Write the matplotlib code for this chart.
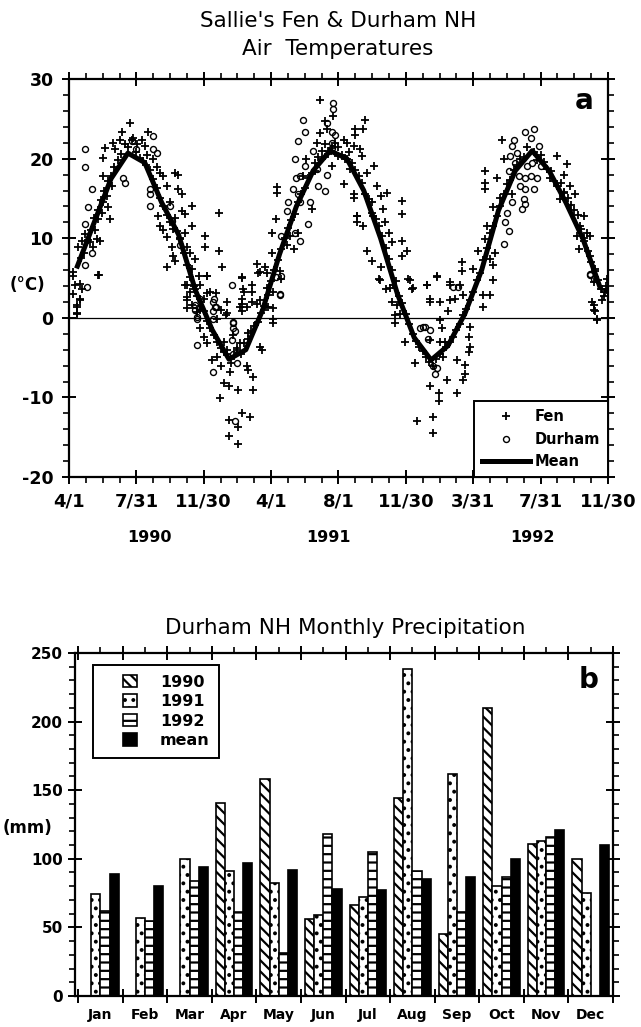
import numpy as np
import matplotlib
matplotlib.use('Agg')
import matplotlib.pyplot as plt
from matplotlib.lines import Line2D
from matplotlib.patches import Patch, Rectangle
from matplotlib.legend_handler import HandlerPatch
from matplotlib.ticker import MultipleLocator, FixedLocator

plt.rcParams['font.family'] = ['DejaVu Sans']
plt.rcParams['hatch.linewidth'] = 1.6

# ---- panel a : air temperatures (x = months since 4/1/1990, y = deg C) ----
date_ticks = [0, 4, 8, 12, 16, 20, 24, 28, 32]
date_labels = ['4/1', '7/31', '11/30', '4/1', '8/1', '11/30', '3/31', '7/31', '11/30']
year_labels = ['1990', '1991', '1992']
year_pos = [4.8, 15.4, 27.5]

# monthly mean, plotted at mid-month
mean_month = [0.5, 1.5, 2.5, 3.5, 4.5, 5.5, 6.5, 7.5, 8.5, 9.5, 10.5, 11.5,
              12.5, 13.5, 14.5, 15.5, 16.5, 17.5, 18.5, 19.5, 20.5, 21.5, 22.5, 23.5,
              24.5, 25.5, 26.5, 27.5, 28.5, 29.5, 30.5, 31.5]
mean_temp = [6.5, 12.0, 17.5, 20.7, 19.5, 14.5, 10.5, 3.5, -1.5, -5.2, -4.0, 1.0,
             8.0, 14.0, 18.5, 21.0, 20.0, 16.0, 10.0, 3.0, -2.5, -5.3, -3.5, 0.5,
             6.0, 13.5, 18.5, 21.0, 18.5, 14.5, 10.0, 4.0]

fen_month = [
    0.26, 0.26, 0.46, 0.46, 0.36, 0.75, 0.65, 0.55, 0.75, 0.95, 1.25, 1.45, 1.64, 1.84, 1.8, 1.54,
    1.74, 1.94, 2.04, 2.34, 2.44, 2.24, 2.53, 2.04, 2.04, 2.14, 2.63, 2.73, 3.03, 3.13, 3.62, 3.72,
    4.02, 4.32, 4.51, 4.71, 4.61, 5.01, 5.21, 5.41, 5.6, 5.8, 6.3, 6.5, 6.5, 6.7, 7.29, 6.0,
    6.3, 5.31, 5.4, 5.6, 5.8, 6.1, 6.2, 5.8, 6.3, 6.6, 6.9, 7.0, 7.2, 7.5, 7.3, 6.9,
    6.7, 7.3, 7.0, 7.2, 7.5, 7.7, 7.8, 8.1, 8.1, 8.9, 8.9, 9.1, 8.2, 8.4, 8.0, 7.0,
    7.3, 7.6, 8.8, 9.3, 10.26, 10.36, 10.55, 10.85, 11.15, 11.35, 11.64, 11.84, 12.14, 12.04, 12.04, 12.3,
    12.34, 12.34, 13.1, 12.93, 13.33, 13.6, 14.4, 14.7, 14.9, 15.2, 14.9, 15.3, 15.7, 16.3, 16.5, 16.9,
    17.0, 16.3, 16.9, 17.1, 17.1, 13.9, 14.1, 14.6, 15.0, 15.4, 15.6, 16.0, 12.5, 12.6, 12.1, 11.7,
    11.35, 10.85, 10.26, 10.16, 9.37, 9.0,
    17.58, 17.48, 17.0, 16.5, 17.3, 17.4, 16.7, 16.9, 17.7, 18.1, 18.3, 18.9, 18.5, 18.0, 19.76, 19.76,
    17.08, 17.48, 18.07, 18.67, 18.77, 18.97, 19.16, 19.76, 20.05, 17.68, 18.0, 18.5, 18.4, 18.8, 19.26, 19.76,
    20.15, 20.35, 19.16, 19.46, 19.66, 21.24, 21.44, 21.84, 22.63, 22.93, 23.32, 23.32, 24.0, 24.3, 24.8, 24.7,
    25.0, 25.2, 25.3, 24.7, 24.7, 24.7, 25.4, 25.7, 25.8, 25.2, 25.6, 26.3, 28.96, 29.56, 29.36, 29.76,
    30.05, 29.16, 29.36, 28.57, 28.37, 30.55, 30.35, 30.25, 30.55, 30.95, 30.95, 31.24, 31.14, 31.64, 31.94, 31.04,
    31.14, 31.34, 31.74, 30.75, 30.15,
    0.26, 0.65, 0.65, 0.46, 0.46, 1.74, 6.9, 7.0, 7.0, 7.8, 8.2, 8.2, 8.7, 9.4, 10.3, 10.4,
    10.85, 11.15, 10.26, 10.26, 11.25, 11.75, 11.75, 12.1, 12.1, 7.8, 8.0, 8.2, 9.2, 10.16, 9.37, 10.6,
    11.35, 11.45, 8.5, 8.8, 9.0, 9.56, 10.55, 10.65, 10.95, 9.2, 9.5, 10.06, 10.95, 8.97, 10.26, 10.75,
    9.5, 10.06, 9.5, 10.06, 9.96, 9.76,
    18.47, 19.06, 20.25, 20.45, 21.24, 21.84, 21.44, 22.03, 22.63, 23.2, 22.63, 22.53, 19.36, 19.36, 23.82, 23.72,
    23.82, 23.72, 22.03, 22.13, 21.44, 22.03, 22.33, 19.96, 20.55, 23.02, 23.52, 23.52, 23.42, 22.43, 21.44, 21.94,
    21.94, 23.02, 21.64, 20.65, 21.64, 24.6, 24.6, 25.2, 25.0, 23.4, 31.14, 31.24, 31.34, 31.64, 31.94,
    0.7, 0.9, 1.1, 1.3, 1.5, 1.7, 1.9, 2.1, 2.3, 2.5, 2.7, 2.9, 3.1, 3.3, 3.5, 3.8, 4.0, 4.2,
    4.4, 4.6, 4.8, 5.0, 5.2, 5.4, 5.6, 5.8, 6.0, 6.2, 6.4, 6.6, 6.8, 7.0, 7.2, 7.4, 7.6, 7.8,
    8.0, 8.2, 8.4, 8.6, 8.8, 9.0, 9.2, 9.4, 9.6, 9.8,
    10.0, 10.2, 10.4, 10.6, 10.8, 11.0, 11.2, 11.4, 11.6, 11.8, 12.0, 12.2, 12.4, 12.6, 12.8, 13.0,
    13.2, 13.4, 13.6, 13.8, 14.0, 14.2, 14.4, 14.6, 14.8, 15.0, 15.2, 15.4, 15.6, 15.8, 16.0, 16.2,
    16.4, 16.6, 16.8, 17.0, 17.2, 17.4, 17.6, 17.8, 18.0, 18.2, 18.4, 18.6, 18.8, 19.0, 19.2, 19.4,
    19.6, 19.8, 20.0, 20.2, 20.4, 20.6, 20.8, 21.0, 21.2, 21.4, 21.6, 21.8, 22.0, 22.2, 22.4, 22.6,
    22.8, 23.0, 23.2, 23.4, 23.6, 23.8, 24.0, 24.2, 24.4, 24.6, 24.8, 25.0, 25.2, 25.4, 25.6, 25.8,
    26.0, 26.2, 26.4, 26.6, 26.8, 27.0, 27.2, 27.6, 27.8, 28.0, 28.2, 28.4, 28.6, 28.8, 29.0, 29.2,
    29.4, 29.6, 29.8, 30.0, 30.2, 30.4, 30.6, 30.8, 31.0, 31.2, 31.4, 31.6, 31.8, 31.9]
fen_temp = [
    5.7, 3.0, 1.6, 0.5, 4.1, 3.6, 2.4, 8.9, 9.7, 10.5, 9.5, 8.9, 9.9, 9.7, 5.4, 11.0,
    12.4, 13.2, 14.5, 13.9, 12.4, 15.3, 16.6, 17.8, 20.1, 21.4, 22.0, 21.2, 22.4, 23.4, 24.5, 22.4,
    21.8, 22.4, 21.6, 23.4, 20.5, 19.9, 18.9, 18.2, 17.8, 16.6, 18.2, 18.0, 16.2, 15.5, 14.1, 14.5,
    12.6, 12.8, 11.6, 11.0, 10.1, 8.9, 7.8, 6.4, 7.2, 9.9, 10.7, 8.9, 8.2, 7.4, 11.6, 13.0,
    13.4, 6.2, 4.1, 3.2, 3.6, 5.3, 4.1, 10.3, 8.9, 8.4, 13.2, 6.4, 5.3, 3.2, 2.4, 2.6,
    1.6, 0.7, -0.1, 0.3, 5.1, 3.6, 1.4, 4.1, 6.8, 5.7, 6.4, 1.4, -0.1, 8.2, 10.7, 12.4,
    16.4, 15.7, 10.3, 9.1, 8.6, 10.7, 13.7, 22.0, 23.2, 24.7, 27.4, 23.7, 25.3, 22.4, 19.9, 21.6,
    23.7, 16.8, 15.1, 12.8, 12.0, 17.8, 19.9, 18.4, 19.9, 21.0, 19.1, 20.3, 5.9, 4.9, 3.2, 1.4,
    2.2, 2.0, 2.4, 1.4, 2.0, 1.0,
    24.9, 23.7, 23.0, 22.0, 21.2, 20.3, 18.7, 15.5, 18.2, 19.1, 16.6, 15.7, 15.3, 14.5, 14.7, 13.0,
    12.8, 11.6, 12.8, 13.7, 12.0, 10.7, 9.5, 9.7, 8.4, 8.4, 7.2, 6.4, 4.9, 3.6, 4.1, 7.8,
    4.9, 3.6, 2.0, 1.6, 0.5, 4.1, 2.4, 5.1, 4.5, 2.4, 7.0, 5.9, 6.2, 8.4, 11.6, 9.9,
    7.4, 6.6, 8.2, 18.4, 17.0, 16.2, 17.6, 22.4, 19.9, 13.9, 15.1, 15.5, 20.3, 19.3, 18.0, 16.6,
    15.5, 14.9, 15.7, 17.6, 18.7, 12.8, 11.6, 8.7, 9.7, 10.3, 7.8, 6.2, 4.5, 3.6, 4.9, 2.0,
    1.0, -0.1, 2.8, 10.7, 10.3,
    5.2, 4.3, 2.2, 1.4, 0.6, 5.4, 4.1, 2.2, 1.2, 1.0, 5.2, 3.1, 3.1, 0.6, 5.0, 3.3,
    3.3, 1.8, 1.8, 0.8, 5.6, 5.6, 3.7, 1.2, -0.7, -1.3, -2.4, -3.2, -3.0, -3.2, -4.0, -1.9,
    -3.6, -4.0, -5.3, -4.9, -6.1, -6.8, -6.1, -6.6, -7.4, -8.2, -8.6, -9.1, -9.1, -10.1, -12.0, -12.4,
    -12.8, -13.7, -14.9, -15.8, -3.8, -2.2,
    4.7, 3.7, 4.7, 3.7, 4.1, 5.2, 2.0, 2.0, 4.1, 4.1, 2.2, 0.8, 0.4, -0.7, -1.1, -2.4,
    -3.6, -4.3, -0.3, -1.3, -2.8, -3.0, -3.0, -3.0, -5.7, -5.3, -5.9, -7.0, -7.8, -7.8, -8.6, -9.5,
    -10.5, -9.5, -12.4, -13.0, -14.5, 2.9, 1.4, 4.7, 2.9, 2.9, 1.6, 0.8, -0.3, 2.2, 3.5,
    7.5, 8.2, 9.8, 11.0, 12.5, 13.6, 14.8, 16.0, 17.2, 17.8, 18.9, 19.8, 20.6, 21.8, 21.5, 22.6, 20.8, 20.1,
    19.7, 19.2, 18.6, 17.5, 16.3, 15.1, 14.0, 12.9, 12.0, 11.2, 10.9, 10.0, 8.2, 6.6, 5.1, 4.0, 2.7, 1.5,
    0.9, -0.4, -1.3, -2.1, -3.0, -3.8, -4.3, -4.6, -5.7, -4.8,
    -4.0, -4.5, -3.1, -2.7, -1.6, -1.0, -0.5, 0.6, 1.5, 2.9, 4.6, 6.0, 7.3, 8.6, 10.0, 11.3,
    12.3, 13.0, 14.6, 15.6, 16.3, 17.6, 18.2, 19.5, 20.2, 21.0, 21.8, 20.6, 21.3, 22.0, 21.5, 20.4,
    19.9, 20.8, 19.5, 18.6, 17.8, 17.0, 15.6, 14.9, 13.2, 12.4, 11.5, 10.3, 8.8, 7.4, 6.0, 4.6,
    2.7, 1.9, 0.5, -0.8, -2.0, -2.9, -3.6, -4.2, -4.9, -5.5, -6.0, -5.2, -4.6, -4.9, -3.7, -3.0,
    -2.4, -1.5, -0.8, 0.3, 1.1, 2.2, 3.3, 4.7, 5.6, 7.3, 8.8, 10.6, 11.6, 12.8, 14.0, 15.6,
    16.8, 17.3, 18.6, 19.2, 20.0, 20.2, 21.5, 20.8, 19.8, 20.4, 19.6, 18.7, 18.5, 17.2, 16.6, 16.9,
    15.8, 15.1, 14.2, 13.6, 12.9, 11.2, 10.0, 8.4, 7.0, 5.9, 4.8, 3.6, 3.2, 4.0]

durham_month = [
    0.95, 0.95, 1.35, 1.15, 0.95, 1.35, 0.95, 1.05, 3.2, 3.3, 4.8, 4.8, 4.8, 5.0, 5.0, 5.2,
    3.72, 4.0, 6.0, 6.1, 6.6, 7.8, 7.5, 7.6, 8.6, 8.7, 9.66, 9.76, 12.3, 12.5, 12.6, 12.93,
    13.0, 13.3, 13.4, 13.7, 13.6, 13.9, 14.0, 13.5, 13.6, 13.7, 14.3, 14.2, 13.7, 13.4, 14.5, 14.7,
    14.8, 15.2, 15.3, 15.3, 15.7, 15.7, 15.8, 15.6, 14.0, 15.6, 15.6,
    26.4, 26.3, 26.6, 27.1, 27.6, 27.4, 27.9, 26.2, 26.1, 26.5, 26.7, 27.1, 27.4, 27.8, 27.2, 27.5,
    28.0, 26.8, 27.1, 27.6, 27.0, 27.1, 26.9, 26.3, 26.0, 25.9, 26.1, 25.8, 30.95, 31.14,
    8.57, 8.67, 8.57, 7.5, 7.6, 8.57, 9.76, 9.76, 9.86, 9.66, 7.6, 9.76, 9.96, 8.57, 9.86, 12.6, 12.5,
    20.85, 21.0, 21.14, 21.44, 21.34, 21.64, 21.84, 21.74, 22.8, 23.1, 30.95]
durham_temp = [
    21.2, 19.0, 16.2, 13.9, 11.8, 8.2, 6.6, 3.9, 17.6, 17.0, 16.2, 15.5, 14.1, 22.9, 21.2, 20.7,
    22.2, 21.2, 14.1, 12.2, 9.1, 2.4, 1.6, 0.1, 2.4, 1.4, 4.1, -0.5, 5.1, 3.0, 10.3, 13.4,
    14.5, 16.2, 19.9, 17.8, 22.2, 24.9, 23.4, 17.6, 15.5, 14.5, 14.5, 11.8, 9.7, 10.7, 21.0, 18.7,
    16.6, 15.9, 18.0, 24.5, 27.0, 26.2, 23.0, 21.4, 19.1, 23.4, 22.0,
    22.4, 21.6, 20.7, 23.4, 23.7, 22.6, 21.6, 20.3, 18.4, 19.5, 17.8, 17.6, 17.8, 17.6, 19.1, 19.5,
    19.1, 16.6, 16.2, 16.2, 14.9, 14.3, 13.7, 14.5, 13.2, 12.0, 10.9, 9.3, 5.5, 4.9,
    2.0, 1.4, 0.8, 1.0, -0.1, -0.1, -0.7, -1.3, -1.7, -2.8, -3.4, -4.5, -5.7, -6.8, -13.0, 5.2, 2.9,
    -1.3, -1.2, -1.1, -1.5, -2.6, -6.1, -6.3, -7.0, 3.9, 3.9, 5.4]

# ---- panel b : monthly precipitation (mm) ----
months = ['Jan', 'Feb', 'Mar', 'Apr', 'May', 'Jun', 'Jul', 'Aug', 'Sep', 'Oct', 'Nov', 'Dec']
precip_1990 = [np.nan, np.nan, np.nan, 141, 158, 56, 66, 144, 45, 210, 111, 100]
precip_1991 = [74, 57, 100, 91, 82, 59, 72, 238, 162, 80, 113, 75]
precip_1992 = [62, 55, 84, 61, 31, 118, 105, 91, 61, 87, 116, np.nan]
precip_mean = [89, 80, 94, 97, 92, 78, 77, 85, 87, 100, 121, 110]


def square_box(legend, orig_handle, xdescent, ydescent, width, height, fontsize):
    # small square swatch pushed to the right end of the handle area
    return Rectangle((-xdescent + width - height * 1.2, -ydescent), height * 1.2, height)


fig = plt.figure(figsize=(6.41, 10.27), dpi=100)

fig.text(0.527, 0.980, "Sallie's Fen & Durham NH", ha='center', va='center', fontsize=15.5)
fig.text(0.527, 0.952, "Air  Temperatures", ha='center', va='center', fontsize=15.5)

ax1 = fig.add_axes([0.1076, 0.5355, 0.8409, 0.3875])
ax1.axhline(0, color='black', lw=0.9, zorder=1)
ax1.plot(fen_month, fen_temp, ls='none', marker='+', ms=5.5, mew=1.3, color='black', label='Fen', zorder=2)
ax1.plot(durham_month, durham_temp, ls='none', marker='o', ms=4.3, mew=1.0, mfc='none',
         color='black', label='Durham', zorder=2)
ax1.plot(mean_month, mean_temp, color='black', lw=3.6, solid_joinstyle='round', label='Mean', zorder=3)

ax1.set_xlim(0, 32)
ax1.set_ylim(-20, 30)
ax1.set_xticks(date_ticks)
ax1.set_xticklabels(date_labels, fontsize=13, fontweight='bold')
ax1.xaxis.set_minor_locator(MultipleLocator(1))
ax1.set_yticks([-20, -10, 0, 10, 20, 30])
ax1.set_yticklabels(['-20', '-10', '0', '10', '20', '30'], fontsize=12.5, fontweight='bold')
ax1.yaxis.set_minor_locator(MultipleLocator(2))
ax1.tick_params(which='major', direction='inout', length=10, width=1.4, top=True, right=True, pad=6)
ax1.tick_params(which='minor', direction='out', length=4, width=1.2, top=True, right=True)
for s in ax1.spines.values():
    s.set_linewidth(1.6)
for yr, xp in zip(year_labels, year_pos):
    ax1.text(xp, -0.153, yr, transform=ax1.get_xaxis_transform(), ha='center', va='center',
             fontsize=11.5, fontweight='bold')
ax1.text(0.955, 0.945, 'a', transform=ax1.transAxes, ha='center', va='center', fontsize=20, fontweight='bold')
fig.text(27 / 641, 1 - 285 / 1027, '(°C)', ha='center', va='center', fontsize=12, fontweight='bold')

h1 = [Line2D([], [], ls='none', marker='+', ms=5.5, mew=1.3, color='black'),
      Line2D([], [], ls='none', marker='o', ms=4.3, mew=1.0, mfc='none', color='black'),
      Line2D([], [], color='black', lw=3.6)]
leg1 = ax1.legend(h1, ['Fen', 'Durham', 'Mean'], loc='lower right', bbox_to_anchor=(1, 0),
                  frameon=True, fancybox=False, edgecolor='black', framealpha=1,
                  handlelength=3.3, handletextpad=0.3, labelspacing=0.5, borderpad=0.55,
                  borderaxespad=0, prop={'size': 10.5, 'weight': 'bold'})
leg1.get_frame().set_linewidth(1.4)

# ---- precipitation bars ----
fig.text(0.538, 1 - 628 / 1027, 'Durham NH Monthly Precipitation', ha='center', va='center', fontsize=15.5)
ax2 = fig.add_axes([0.117, 0.0302, 0.8393, 0.334])
x = np.arange(len(months))
w = 0.205
series = [(precip_1990, '\\\\\\', 'white', '1990'),
          (precip_1991, '..', 'white', '1991'),
          (precip_1992, '--', 'white', '1992'),
          (precip_mean, None, 'black', 'mean')]
for k, (vals, hatch, fc, lab) in enumerate(series):
    ax2.bar(x + (k - 1.5) * w, vals, w, facecolor=fc, edgecolor='black', hatch=hatch, lw=1.2, label=lab)

ax2.set_xlim(-0.57, 11.5)
ax2.set_ylim(0, 250)
ax2.xaxis.set_major_locator(FixedLocator(np.arange(-0.5, 12, 1)))
ax2.xaxis.set_minor_locator(FixedLocator(x))
ax2.set_xticklabels([])
ax2.set_xticklabels(months, minor=True, fontsize=10, fontweight='bold')
ax2.set_yticks([0, 50, 100, 150, 200, 250])
ax2.set_yticklabels(['0', '50', '100', '150', '200', '250'], fontsize=11, fontweight='bold')
ax2.yaxis.set_minor_locator(MultipleLocator(10))
ax2.tick_params(which='major', direction='inout', length=10, width=1.4, top=True, right=True)
ax2.tick_params(which='minor', direction='out', length=4, width=1.2, top=True, right=True)
ax2.tick_params(axis='x', which='minor', bottom=False, pad=5)
for s in ax2.spines.values():
    s.set_linewidth(1.6)
ax2.text(0.955, 0.92, 'b', transform=ax2.transAxes, ha='center', va='center', fontsize=20, fontweight='bold')
fig.text(28 / 641, 1 - 828 / 1027, '(mm)', ha='center', va='center', fontsize=12, fontweight='bold')

h2 = [Patch(facecolor=fc, edgecolor='black', hatch=hatch, lw=1.2) for _, hatch, fc, _ in series]
leg2 = ax2.legend(h2, [s[3] for s in series], loc='upper left', bbox_to_anchor=(0.033, 0.965),
                  frameon=True, fancybox=False, edgecolor='black', framealpha=1,
                  handlelength=2.2, handleheight=0.8, handletextpad=1.4, labelspacing=0.28,
                  borderpad=0.6, borderaxespad=0, prop={'size': 11.5, 'weight': 'bold'},
                  handler_map={Patch: HandlerPatch(patch_func=square_box)})
leg2.get_frame().set_linewidth(1.4)

fig.savefig('out.png', dpi=100)
